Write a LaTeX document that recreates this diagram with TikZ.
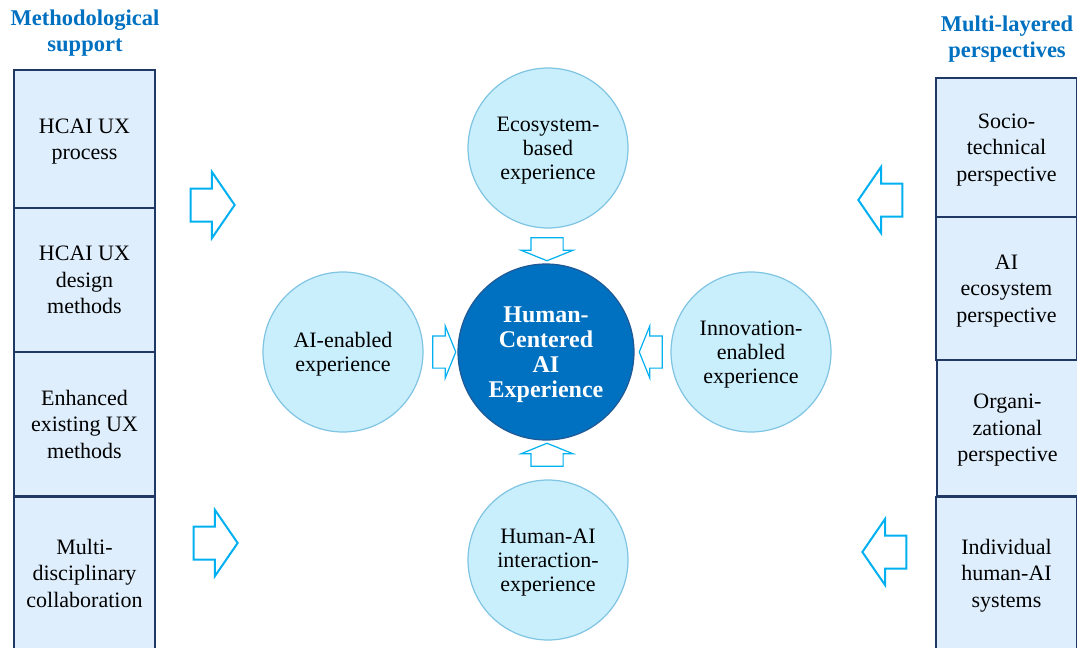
\documentclass[tikz,border=0pt]{standalone}
\usepackage{fontspec}
\setmainfont{Liberation Serif}
\usetikzlibrary{shapes.arrows}

\definecolor{titleblue}{HTML}{0070C0}
\definecolor{boxline}{HTML}{1F3864}
\definecolor{boxfill}{HTML}{DEEEFC}
\definecolor{bubbleline}{HTML}{7FC4E3}
\definecolor{bubblefill}{HTML}{C9EEFC}
\definecolor{corefill}{HTML}{0070C0}
\definecolor{coreline}{HTML}{1F5A96}
\definecolor{arrowcyan}{HTML}{00B0F0}

\tikzset{
  heading/.style={align=center, text=titleblue, font=\bfseries\fontsize{22.5}{26}\selectfont},
  stack/.style={draw=boxline, line width=2pt, fill=boxfill, minimum width=141pt, inner sep=0pt, align=center, font=\fontsize{22}{26.5}\selectfont, text depth=-7pt},
  bubble/.style={circle, draw=bubbleline, line width=1.2pt, fill=bubblefill, minimum size=160pt, inner sep=0pt, align=center, font=\fontsize{22}{24}\selectfont, text depth=-4pt},
  core/.style={circle, draw=coreline, line width=1.2pt, fill=corefill, minimum size=176pt, inner sep=0pt, align=center, text=white, font=\bfseries\fontsize{24}{25}\selectfont, text depth=-8pt},
  bigarrow/.style={single arrow, draw=arrowcyan, line width=2pt, fill=white, minimum height=44pt, inner xsep=0pt, inner ysep=15.5pt, single arrow head extend=16.5pt, single arrow tip angle=111},
  smallarrow/.style={single arrow, draw=arrowcyan, line width=1.2pt, fill=white, minimum height=23pt, inner xsep=0pt, inner ysep=15.5pt, single arrow head extend=10pt, single arrow tip angle=136}
}

\begin{document}
\begin{tikzpicture}[x=1pt, y=-1pt]
  \useasboundingbox (0,0) rectangle (1077,648);

  % headings
  \node[heading] (lhead) at (85,33.5) {Methodological\\support};
  \node[heading] (rhead) at (1007,39.5) {Multi-layered\\perspectives};

  % left column
  \node[stack, minimum height=138pt] (m1) at (84.5,139) {HCAI UX\\process};
  \node[stack, minimum height=144pt] (m2) at (84.5,280) {HCAI UX\\design\\methods};
  \node[stack, minimum height=144pt] (m3) at (84.5,424) {Enhanced\\existing UX\\methods};
  \node[stack, minimum height=152pt] (m4) at (84.5,573) {Multi-\\disciplinary\\collaboration};

  % right column
  \node[stack, minimum height=139pt] (p1) at (1006.5,147.5) {Socio-\\technical\\perspective};
  \node[stack, minimum height=143pt] (p2) at (1006.5,288.5) {AI\\ecosystem\\perspective};
  \node[stack, minimum height=136pt] (p3) at (1007.5,428) {Organi-\\zational\\perspective};
  \node[stack, minimum height=152pt] (p4) at (1006.5,573) {Individual\\human-AI\\systems};

  % circles
  \node[bubble] (eco) at (548,148) {Ecosystem-\\based\\experience};
  \node[bubble] (aie) at (343,352) {AI-enabled\\experience};
  \node[bubble] (inn) at (751,352) {Innovation-\\enabled\\experience};
  \node[bubble] (hai) at (548,560) {Human-AI\\interaction-\\experience};
  \node[core] (hcai) at (546,352) {Human-\\Centered\\AI\\Experience};

  % block arrows
  \node[bigarrow] (al1) at (207,205) {};
  \node[bigarrow] (al2) at (210,543) {};
  \node[bigarrow, rotate=180] (ar1) at (886,200) {};
  \node[bigarrow, rotate=180] (ar2) at (890,552) {};

  \node[smallarrow, rotate=-90] (ad) at (547,246) {};
  \node[smallarrow] (ae) at (441,352) {};
  \node[smallarrow, rotate=180] (aw) at (654,352) {};
  \node[smallarrow, rotate=90] (au) at (547,458) {};
\end{tikzpicture}
\end{document}
